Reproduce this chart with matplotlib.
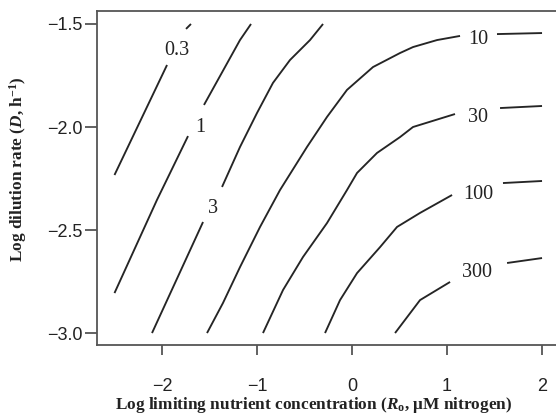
import numpy as np
import matplotlib
matplotlib.use('Agg')
import matplotlib.pyplot as plt

nan = np.nan

# Contour lines (nan = gap where the label sits)
c03_x = [-2.50, -1.947, nan, -1.747, -1.695]
c03_y = [-2.233, -1.699, nan, -1.524, -1.50]

c1_x = [-2.50, -2.053, -1.726, nan, -1.558, -1.179, -1.063]
c1_y = [-2.806, -2.354, -2.044, nan, -1.893, -1.578, -1.50]

c3_x = [-2.105, -1.568, nan, -1.368, -1.179, -1.0, -0.832, -0.653, -0.442, -0.305]
c3_y = [-3.0, -2.461, nan, -2.291, -2.097, -1.932, -1.786, -1.675, -1.578, -1.50]

c10_x = [-1.526, -1.358, -1.179, -0.968, -0.758, -0.474, -0.263, -0.053, 0.221,
         0.505, 0.642, 0.895, 1.137, nan, 1.526, 2.0]
c10_y = [-3.0, -2.854, -2.680, -2.485, -2.306, -2.097, -1.951, -1.820, -1.709,
         -1.641, -1.612, -1.578, -1.558, nan, -1.549, -1.544]

c30_x = [-0.937, -0.726, -0.516, -0.263, -0.053, 0.053, 0.263, 0.505, 0.642,
         1.084, nan, 1.558, 2.0]
c30_y = [-3.0, -2.791, -2.631, -2.466, -2.306, -2.223, -2.126, -2.049, -2.0,
         -1.937, nan, -1.908, -1.898]

c100_x = [-0.284, -0.126, 0.053, 0.295, 0.474, 0.716, 1.053, nan, 1.589, 2.0]
c100_y = [-3.0, -2.840, -2.709, -2.583, -2.485, -2.417, -2.330, nan, -2.272, -2.262]

c300_x = [0.453, 0.716, 1.032, nan, 1.632, 2.0]
c300_y = [-3.0, -2.840, -2.752, nan, -2.660, -2.636]

level_labels = ['0.3', '1', '3', '10', '30', '100', '300']
label_x = [-1.842, -1.60, -1.463, 1.326, 1.326, 1.326, 1.316]
label_y = [-1.617, -1.990, -2.383, -1.563, -1.942, -2.316, -2.694]

xticks = [-2, -1, 0, 1, 2]
yticks = [-3.0, -2.5, -2.0, -1.5]

plt.rcParams['mathtext.fontset'] = 'custom'
plt.rcParams['mathtext.rm'] = 'Liberation Serif:bold'
plt.rcParams['mathtext.bf'] = 'Liberation Serif:bold'
plt.rcParams['mathtext.it'] = 'Liberation Serif:bold:italic'

W, H = 556, 417
fig = plt.figure(figsize=(W / 100, H / 100), dpi=100)
ax = fig.add_axes([97 / W, (H - 345) / H, (W - 97) / W, (345 - 11) / H])

line_color = '#252525'
for xs, ys in [(c03_x, c03_y), (c1_x, c1_y), (c3_x, c3_y), (c10_x, c10_y),
               (c30_x, c30_y), (c100_x, c100_y), (c300_x, c300_y)]:
    ax.plot(xs, ys, color=line_color, lw=1.35, solid_capstyle='butt',
            solid_joinstyle='round')

for lx, ly, lt in zip(label_x, label_y, level_labels):
    ax.text(lx, ly, lt, ha='center', va='center_baseline', fontsize=14.5,
            family='Liberation Serif', color='#222222')

ax.set_xlim(-2.684, 2.147)
ax.set_ylim(-3.058, -1.437)
ax.set_xticks(xticks)
ax.set_yticks(yticks)
ax.set_xticklabels(['\u2212%d' % -t if t < 0 else '%d' % t for t in xticks])
ax.set_yticklabels(['\u2212%.1f' % -t for t in yticks])

spine_color = '#555555'
for s in ['left', 'bottom', 'top']:
    ax.spines[s].set_color(spine_color)
    ax.spines[s].set_linewidth(1.3)
ax.spines['right'].set_visible(False)

ax.tick_params(axis='x', direction='out', length=7.5, width=1.3, color=spine_color,
               pad=16, labelsize=13, labelcolor='#222222')
ax.tick_params(axis='y', direction='out', length=8.5, width=1.3, color=spine_color,
               pad=2, labelsize=13, labelcolor='#222222')
for lab in ax.get_xticklabels() + ax.get_yticklabels():
    lab.set_family('Liberation Sans')

ax.set_xlabel('Log limiting nutrient concentration ($R_{\\mathrm{o}}$, \u03bcM nitrogen)',
              family='Liberation Serif', fontweight='bold', fontsize=12.4, color='#222222')
ax.xaxis.set_label_coords(0.472, -0.18)
ax.xaxis.label.set_va('center')

ax.set_ylabel('Log dilution rate ($D$, h$^{-1}$)',
              family='Liberation Serif', fontweight='bold', fontsize=12.4, color='#222222')
ax.yaxis.set_label_coords(-0.172, 0.527)
ax.yaxis.label.set_va('center')

fig.savefig('out.png', dpi=100)
